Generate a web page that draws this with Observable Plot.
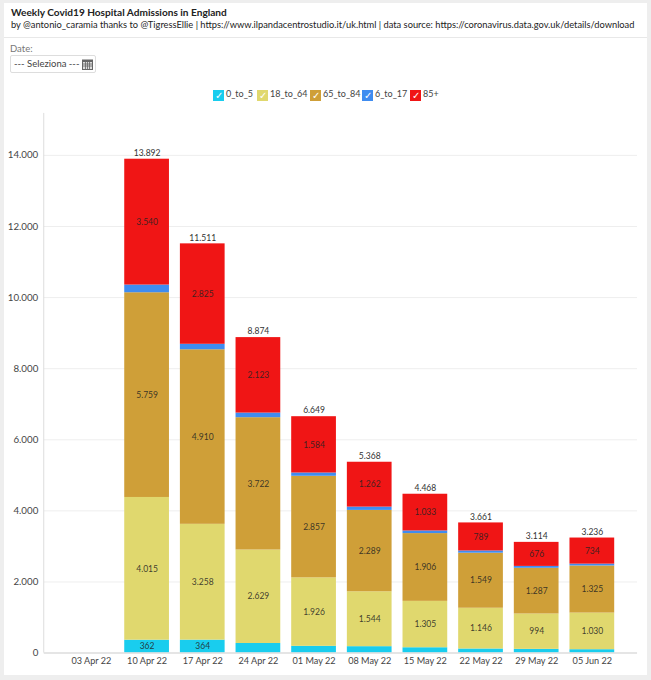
<!DOCTYPE html>
<html><head><meta charset="utf-8">
<script src="https://cdn.jsdelivr.net/npm/d3@7"></script>
<script src="https://cdn.jsdelivr.net/npm/@observablehq/plot@0.6"></script>
<style>
html,body{margin:0;padding:0;background:#eeeeee;font-family:Lato,sans-serif;}
#card{position:absolute;left:4px;top:3px;width:643px;height:672px;background:#fff;overflow:hidden;}
#head{position:absolute;left:0;top:0;width:643px;height:34px;border-bottom:1px solid #e8e8e8;}
.t{position:absolute;white-space:nowrap;color:#222;}
#date{position:absolute;left:6px;top:52px;height:16px;border:1px solid #ddd;border-radius:2px;font-size:9.5px;line-height:16px;color:#444;padding-left:3px;width:81px;white-space:nowrap;}
#legend{position:absolute;left:0;top:85px;width:643px;height:16px;}
.li{position:absolute;top:0;font-size:9px;line-height:12px;color:#444;white-space:nowrap;}
.sw{display:inline-block;width:11px;height:11px;vertical-align:-2px;margin-right:2px;color:#fff;font-size:10px;line-height:11px;text-align:center;}
#chart{position:absolute;left:-4px;top:97px;}
#chart svg{display:block;}
</style></head><body>
<div id="card">
<div id="head">
<div class="t" style="left:7px;top:3px;font-size:10.1px;font-weight:700">Weekly Covid19 Hospital Admissions in England</div>
<div class="t" style="left:7px;top:16px;font-size:9.3px">by @antonio_caramia thanks to @TigressEllie | https://www.ilpandacentrostudio.it/uk.html | data source: https://coronavirus.data.gov.uk/details/download</div>
</div>
<div class="t" style="left:6px;top:40px;font-size:9.5px;color:#777">Date:</div>
<div id="date">--- Seleziona ---
<svg width="11" height="12" viewBox="0 0 11 12" style="position:absolute;right:2px;top:2px"><rect x="0" y="1.5" width="11" height="10.5" fill="#666"/><rect x="1" y="4" width="9" height="7" fill="#ddd"/><path d="M1 6h9M1 8h9M3.5 4v7M5.5 4v7M7.5 4v7" stroke="#666" stroke-width=".8"/></svg>
</div>
<div id="legend"></div>
<div id="chart"></div>
</div>
<script>
const dates = ["03 Apr 22","10 Apr 22","17 Apr 22","24 Apr 22","01 May 22","08 May 22","15 May 22","22 May 22","29 May 22","05 Jun 22"];
const barDates = dates.slice(1);
const series = ["0_to_5","18_to_64","65_to_84","6_to_17","85+"];
const colors = ["#19cdee","#e0d86e","#cf9f38","#3f8cf0","#f01515"];
const age0to5 = [362,364,270,190,180,150,115,105,95];
const age18to64 = [4015,3258,2629,1926,1544,1305,1146,994,1030];
const age65to84 = [5759,4910,3722,2857,2289,1906,1549,1287,1325];
const age6to17 = [216,154,130,92,93,74,62,52,52];
const age85 = [3540,2825,2123,1584,1262,1033,789,676,734];
const totals = [13892,11511,8874,6649,5368,4468,3661,3114,3236];
const yTicks = [0,2000,4000,6000,8000,10000,12000,14000];
const labelled0to5 = ["10 Apr 22","17 Apr 22"];

const fmt = d3.formatLocale({decimal:",",thousands:".",grouping:[3],currency:["",""]}).format(",d");

const rows = [];
[age0to5,age18to64,age65to84,age6to17,age85].forEach((vals,i)=>{
  vals.forEach((v,j)=>rows.push({date:barDates[j],series:series[i],value:v}));
});
const totalRows = barDates.map((d,j)=>({date:d,total:totals[j]}));
const labelOf = d => {
  if (d.series==="6_to_17") return "";
  if (d.series==="0_to_5" && !labelled0to5.includes(d.date)) return "";
  return fmt(d.value);
};

const chart = Plot.plot({
  width:651,height:581,
  marginLeft:44,marginRight:10,marginTop:13,marginBottom:25,
  style:{fontFamily:"Lato, sans-serif",fontSize:"9.5px",background:"transparent"},
  x:{domain:dates,range:[57,629],padding:0.2,label:null},
  y:{domain:[0,15180],label:null},
  color:{domain:series,range:colors},
  marks:[
    Plot.ruleY(yTicks.slice(1),{stroke:"#eeeeee",strokeWidth:1}),
    Plot.axisX({tickSize:0,color:"#444",fontSize:9.2,tickPadding:4,label:null}),
    Plot.axisY({ticks:yTicks,tickFormat:fmt,tickSize:0,color:"#444",fontSize:9.8,tickPadding:6,label:null}),
    Plot.barY(rows,{x:"date",y:"value",fill:"series",order:series}),
    Plot.text(rows,Plot.stackY({x:"date",y:"value",z:"series",order:series,text:labelOf,fill:"#222",fillOpacity:0.85,fontSize:8.6})),
    Plot.text(totalRows,{x:"date",y:"total",text:d=>fmt(d.total),dy:-6,fill:"#333",fontSize:8.6}),
    Plot.ruleY([0],{stroke:"#dddddd",strokeWidth:1.5})
  ]
});
document.getElementById("chart").appendChild(chart);
const y = chart.scale("y");
const ns="http://www.w3.org/2000/svg";
const ln=document.createElementNS(ns,"line");
ln.setAttribute("x1",44);ln.setAttribute("x2",44);ln.setAttribute("y1",y.apply(15180));ln.setAttribute("y2",y.apply(0));
ln.setAttribute("stroke","#dddddd");ln.setAttribute("stroke-width","1");
chart.appendChild(ln);

const legendX=[209,253,306,358,406];
const legend=document.getElementById("legend");
series.forEach((s,i)=>{
  const el=document.createElement("div");
  el.className="li";el.style.left=legendX[i]+"px";
  const sw=document.createElement("span");
  sw.className="sw";sw.style.background=colors[i];sw.textContent="✓";
  el.appendChild(sw);
  el.appendChild(document.createTextNode(s));
  legend.appendChild(el);
});
</script>
</body></html>
